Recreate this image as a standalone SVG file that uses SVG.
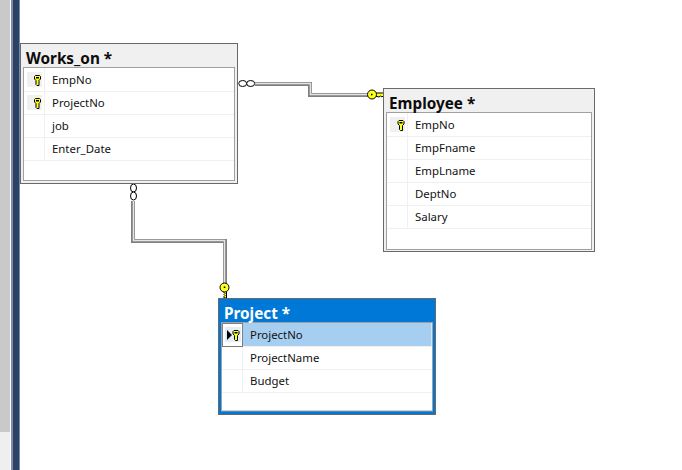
<svg xmlns="http://www.w3.org/2000/svg" width="682" height="470" viewBox="0 0 682 470">
<style>
.outer{fill:#f0f0f0;stroke:#696969;stroke-width:1}
.inner{fill:#fff;stroke:#a0a0a0;stroke-width:1}
.sep{stroke:#f0f0f0;stroke-width:1;fill:none}
.t{font-family:"Noto Sans","Liberation Sans",sans-serif;font-size:15.300px;font-weight:bold;fill:#0c0c0c}
.c{font-family:"Noto Sans","Open Sans",sans-serif;font-size:11.400px;fill:#111}
.lo{fill:none;stroke:#808080;stroke-width:4}
.li{fill:none;stroke:#e4e4e4;stroke-width:1.500}
.ring{fill:#fff;stroke:#000;stroke-width:1}
.keyf{fill:#ffff20;stroke:#000;stroke-width:1}
</style>
<defs>
<g id="key">
<path d="M-3,-3.500 L-2,-4.500 L2,-4.500 L3,-3.500 L3,-1 L1.500,0.500 L1.500,5.500 L-0.500,5.500 L-1.500,4.500 L-1.500,0.500 L-3,-1 Z" class="keyf"/>
<rect x="-1.500" y="-3" width="3" height="1.500" fill="#000"/>
</g>
</defs>
<rect width="682" height="470" fill="#fff"/>
<g id="sidebar">
<rect x="0" y="0" width="10" height="432" fill="#c9c9c9"/>
<rect x="0" y="432" width="10" height="38" fill="#efefef"/>
<rect x="11" y="0" width="2" height="470" fill="#7f8aa6"/>
<rect x="13" y="0" width="6" height="470" fill="#2c4265"/>
<rect x="19" y="0" width="1" height="470" fill="#6f8ab5"/>
</g>
<g id="connectors">
<path d="M255,84 H310 V95 H369" class="lo"/>
<path d="M255,83.500 H310.500 V94.500 H369" class="li"/>
<path d="M133,201 V241 H225 V284" class="lo"/>
<path d="M133.500,201 V240.500 H224.500 V284" class="li"/>
<ellipse cx="242.700" cy="83.500" rx="4" ry="3" class="ring"/>
<ellipse cx="250.700" cy="83.500" rx="4" ry="3" class="ring"/>
<ellipse cx="133.500" cy="188" rx="3" ry="4" class="ring"/>
<ellipse cx="133.500" cy="196" rx="3" ry="4" class="ring"/>
<g id="key-employee">
<path d="M375.500,93 H383.500 V95.500 L382,97 L380.500,96 L379,97 L377,96.500 L375.500,96.500 Z" class="keyf"/>
<circle cx="372" cy="94.500" r="4.500" class="keyf"/>
<rect x="371" y="93.800" width="1.500" height="1.500" fill="#000"/>
</g>
<g id="key-project">
<path d="M224,290 H226.500 V298 H224 V296.500 L225,295.500 L224,294.500 L225,293.500 L224,292.500 Z" class="keyf"/>
<circle cx="224.500" cy="287.500" r="4.500" class="keyf"/>
<rect x="223.800" y="286.500" width="1.500" height="1.500" fill="#000"/>
</g>
</g>
<g id="node-works-on">
<rect x="20.500" y="43.500" width="217" height="140" class="outer"/>
<rect x="23.500" y="67.500" width="211" height="113" class="inner"/>
<path d="M24,91.500 H234 M24,114.500 H234 M24,137.500 H234 M24,160.500 H234 M44.500,68 V160" class="sep"/>
<rect x="27" y="72" width="15" height="15" fill="#f0f0f0"/>
<rect x="27" y="95" width="15" height="15" fill="#f0f0f0"/>
<use href="#key" x="37.500" y="80"/>
<use href="#key" x="37.500" y="103"/>
<text x="26" y="64" class="t">Works_on *</text>
<text x="52" y="83.500" class="c">EmpNo</text>
<text x="52" y="106.500" class="c">ProjectNo</text>
<text x="52" y="129.500" class="c">job</text>
<text x="52" y="152.500" class="c">Enter_Date</text>
</g>
<g id="node-employee">
<rect x="383.500" y="88.500" width="211" height="163" class="outer"/>
<rect x="386.500" y="112.500" width="205" height="137" class="inner"/>
<path d="M387,136.500 H591 M387,159.500 H591 M387,182.500 H591 M387,205.500 H591 M387,228.500 H591 M407.500,113 V228" class="sep"/>
<rect x="390" y="117" width="15" height="15" fill="#f0f0f0"/>
<use href="#key" x="401" y="125"/>
<text x="389" y="109" class="t">Employee *</text>
<text x="415" y="128.500" class="c">EmpNo</text>
<text x="415" y="151.500" class="c">EmpFname</text>
<text x="415" y="174.500" class="c">EmpLname</text>
<text x="415" y="197.500" class="c">DeptNo</text>
<text x="415" y="220.500" class="c">Salary</text>
</g>
<g id="node-project">
<rect x="218.500" y="298.500" width="217" height="116" fill="#0078d7" stroke="#696969"/>
<rect x="221.500" y="322.500" width="211" height="88.500" class="inner"/>
<rect x="243" y="323" width="188.500" height="23" fill="#a6cef0"/>
<path d="M222,346.500 H432 M222,369.500 H432 M222,392.500 H432 M242.500,346 V392" class="sep"/>
<rect x="225" y="327" width="16" height="15" fill="#e4eef8"/>
<path d="M227,330 L232,335 L227,340 Z" fill="#000"/>
<use href="#key" x="236" y="335"/>
<rect x="222.500" y="323.500" width="20" height="23" fill="none" stroke="#000" stroke-dasharray="1 1"/>
<text x="224" y="319" class="t" style="fill:#fff">Project *</text>
<text x="250" y="338.500" class="c">ProjectNo</text>
<text x="250" y="361.500" class="c">ProjectName</text>
<text x="250" y="384.500" class="c">Budget</text>
</g>
</svg>
